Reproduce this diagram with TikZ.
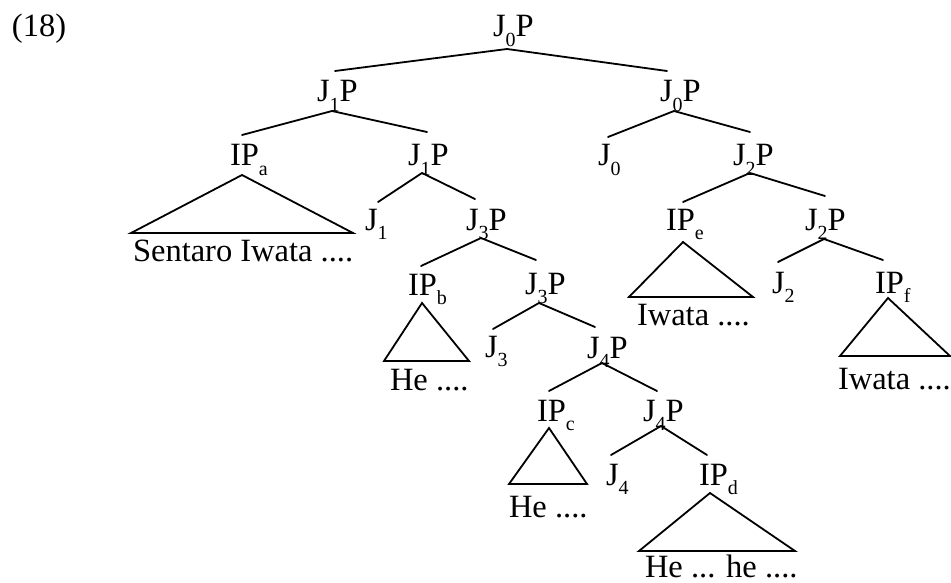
\documentclass[tikz,border=0pt]{standalone}
\usepackage{fontspec}
\setmainfont{Liberation Serif}
\newcommand{\sbs}[1]{\raisebox{-9.5pt}{\fontsize{20}{20}\selectfont #1}}
\tikzset{
  lab/.style={anchor=base west, inner sep=0pt, outer sep=0pt, font=\fontsize{32.5}{38}\selectfont},
  edge/.style={line width=1.8pt, line cap=round, line join=miter},
}
\begin{document}
\begin{tikzpicture}[x=1pt,y=-1pt]
\useasboundingbox (0,0) rectangle (951,583);
% labels
\node[lab] (ex) at (12,37) {(18)};
\node[lab] (r0) at (493,37) {J\sbs{0}P};
\node[lab] (a1) at (317,102) {J\sbs{1}P};
\node[lab] (b1) at (660,102) {J\sbs{0}P};
\node[lab] (ipa) at (230,166) {IP\sbs{a}};
\node[lab] (a2) at (408,166) {J\sbs{1}P};
\node[lab] (j0) at (598,166) {J\sbs{0}};
\node[lab] (b2) at (733,166) {J\sbs{2}P};
\node[lab] (j1) at (365,230) {J\sbs{1}};
\node[lab] (a3) at (466,230) {J\sbs{3}P};
\node[lab] (ipe) at (666,230) {IP\sbs{e}};
\node[lab] (b3) at (805,230) {J\sbs{2}P};
\node[lab] (ipb) at (408,295) {IP\sbs{b}};
\node[lab] (a4) at (525,294) {J\sbs{3}P};
\node[lab] (j2) at (772,293) {J\sbs{2}};
\node[lab] (ipf) at (875,293) {IP\sbs{f}};
\node[lab] (j3) at (485,357) {J\sbs{3}};
\node[lab] (a5) at (587,358) {J\sbs{4}P};
\node[lab] (ipc) at (537,421) {IP\sbs{c}};
\node[lab] (a6) at (643,421) {J\sbs{4}P};
\node[lab] (j4) at (606,485) {J\sbs{4}};
\node[lab] (ipd) at (699,485) {IP\sbs{d}};
% leaf texts
\node[lab] (ta) at (133,261) {Sentaro Iwata ....};
\node[lab] (te) at (637,325) {Iwata ....};
\node[lab] (tb) at (390,390) {He ....};
\node[lab] (tf) at (838,389) {Iwata ....};
\node[lab] (tc) at (509,517) {He ....};
\node[lab] (td) at (645,577) {He ... he ....};
% connector points
\coordinate (r0-b) at (507,49);
\coordinate (a1-t) at (335,71);
\coordinate (b1-t) at (667,71);
\coordinate (a1-b) at (332,111);
\coordinate (ipa-t) at (242,135);
\coordinate (a2-t) at (427,132);
\coordinate (b1-b) at (674,111);
\coordinate (j0-t) at (608,137);
\coordinate (b2-t) at (750,132);
\coordinate (a2-b) at (422,173);
\coordinate (j1-t) at (378,202);
\coordinate (a3-t) at (475,199);
\coordinate (b2-b) at (750,173);
\coordinate (ipe-t) at (683,202);
\coordinate (b3-t) at (825,196);
\coordinate (a3-b) at (481,238);
\coordinate (ipb-t) at (421,266);
\coordinate (a4-t) at (536,260);
\coordinate (b3-b) at (824,239);
\coordinate (j2-t) at (778,262);
\coordinate (ipf-t) at (883,260);
\coordinate (a4-b) at (539,303);
\coordinate (j3-t) at (493,329);
\coordinate (a5-t) at (595,327);
\coordinate (a5-b) at (602,363);
\coordinate (ipc-t) at (549,391);
\coordinate (a6-t) at (657,391);
\coordinate (a6-b) at (661,426);
\coordinate (j4-t) at (611,455);
\coordinate (ipd-t) at (707,455);
% triangle corners
\coordinate (ipa-b) at (242,175); \coordinate (ta-l) at (131,233); \coordinate (ta-r) at (353,233);
\coordinate (ipe-b) at (683,242); \coordinate (te-l) at (629,297); \coordinate (te-r) at (753,297);
\coordinate (ipb-b) at (422,303); \coordinate (tb-l) at (384,361); \coordinate (tb-r) at (469,361);
\coordinate (ipf-b) at (888,298); \coordinate (tf-l) at (840,356); \coordinate (tf-r) at (950,356);
\coordinate (ipc-b) at (549,428); \coordinate (tc-l) at (509,484); \coordinate (tc-r) at (587,484);
\coordinate (ipd-b) at (710,493); \coordinate (td-l) at (639,551); \coordinate (td-r) at (795,551);
% branches
\draw[edge] (a1-t) -- (r0-b) -- (b1-t);
\draw[edge] (ipa-t) -- (a1-b) -- (a2-t);
\draw[edge] (j0-t) -- (b1-b) -- (b2-t);
\draw[edge] (j1-t) -- (a2-b) -- (a3-t);
\draw[edge] (ipe-t) -- (b2-b) -- (b3-t);
\draw[edge] (ipb-t) -- (a3-b) -- (a4-t);
\draw[edge] (j2-t) -- (b3-b) -- (ipf-t);
\draw[edge] (j3-t) -- (a4-b) -- (a5-t);
\draw[edge] (ipc-t) -- (a5-b) -- (a6-t);
\draw[edge] (j4-t) -- (a6-b) -- (ipd-t);
% triangles
\draw[edge] (ipa-b) -- (ta-l) -- (ta-r) -- cycle;
\draw[edge] (ipe-b) -- (te-l) -- (te-r) -- cycle;
\draw[edge] (ipb-b) -- (tb-l) -- (tb-r) -- cycle;
\draw[edge] (ipf-b) -- (tf-l) -- (tf-r) -- cycle;
\draw[edge] (ipc-b) -- (tc-l) -- (tc-r) -- cycle;
\draw[edge] (ipd-b) -- (td-l) -- (td-r) -- cycle;
\end{tikzpicture}
\end{document}
